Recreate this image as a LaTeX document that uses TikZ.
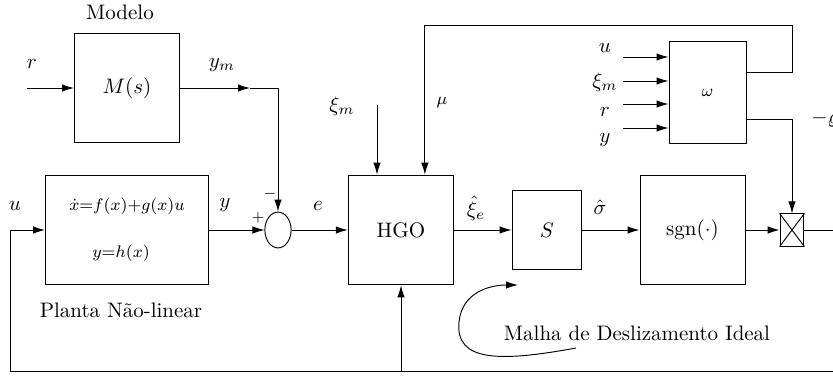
\documentclass[tikz,border=0pt]{standalone}
\usepackage{fontspec}
\usepackage{amsmath, amssymb}
\usepackage{tikz}
\usetikzlibrary{arrows.meta, positioning, shapes.geometric, calc}

\tikzset{
  blockbox/.style={draw, rectangle, inner sep=0pt},
  sumell/.style={draw, ellipse, minimum width=0.44cm, minimum height=0.6cm, inner sep=0pt},
  sig/.style={-{Latex[length=2mm,width=1.25mm]}},
}

\begin{document}
\begin{tikzpicture}[x=0.01675cm, y=-0.01675cm, line width=0.45pt]

\useasboundingbox (0,0) rectangle (833,376);
\clip (0,0) rectangle (833,376);

% Blocks
\node[blockbox, minimum width=1.76cm, minimum height=1.84cm] (model) at (127,88) {$M(s)$};
\node[blockbox, minimum width=2.73cm, minimum height=1.84cm] (plant) at (127,230) {};
\node[sumell] (sum) at (278,230) {};
\node[blockbox, minimum width=1.77cm, minimum height=1.84cm] (hgo) at (401,230) {HGO};
\node[blockbox, minimum width=1.17cm, minimum height=1.31cm] (sblk) at (547,230) {$S$};
\node[blockbox, minimum width=1.76cm, minimum height=1.84cm] (sgn) at (692.5,230) {sgn$(\cdot)$};
\node[blockbox, minimum width=0.4cm, minimum height=0.54cm] (mult) at (792,230) {};
\draw (mult.north west) -- (mult.south east) (mult.north east) -- (mult.south west);
\node[blockbox, minimum width=1.29cm, minimum height=1.72cm] (omega) at (707.5,92.5) {\footnotesize$\omega$};

% Plant equations
\node[font=\footnotesize] (eqx) at (127,206) {$\dot{x}{=}f(x){+}g(x)u$};
\node[font=\footnotesize] (eqy) at (121,253) {$y{=}h(x)$};

% Free ends
\coordinate (rin) at (27,88);
\coordinate (ymarr) at (250,88);
\coordinate (outr) at (845,230);
\coordinate (outb) at (845,371);
\coordinate (fbl) at (10,371);
\coordinate (xiin) at (377,105);
\coordinate (mutop) at (792,25);

% Signal lines
\draw[sig] (rin) -- (model);
\draw[sig] (model) -- (ymarr);
\draw[sig] (ymarr) -| (sum.north);
\draw[sig] (plant) -- (sum.west);
\draw[sig] (sum) -- (hgo);
\draw[sig] (hgo) -- (sblk);
\draw[sig] (sblk) -- (sgn);
\draw[sig] (sgn) -- (mult);
\draw (mult) -- (outr);
\draw[sig] (outb) -- (fbl) |- (plant.west);
\draw[sig] (hgo.south |- fbl) -- (hgo.south);
\draw[sig] (xiin) -- (xiin |- hgo.north);
\draw[sig] ([yshift=0.34cm]omega.east) -| (mutop) -| ([xshift=0.4cm]hgo.north);
\draw[sig] ([yshift=-0.46cm]omega.east) -| (mult.north);

% Inputs of omega
\foreach \yy [count=\i] in {57,81,104,128} {
  \coordinate (in\i) at (623,\yy);
  \draw[sig] (in\i) -- (in\i -| omega.west);
}
\foreach \lbl/\yy [count=\i] in {u/48, \xi_m/82, r/112, y/140}
  \node (lblin\i) at (605,\yy) {$\lbl$};

% Sliding loop arrow
\coordinate (loopa) at (576,348);
\coordinate (loopb) at (518,285);
\draw[sig] (loopa) .. controls (500,362) and (455,362) .. (459,322)
                   .. controls (462,292) and (490,285) .. (loopb);

% Labels
\node (modellbl) at (120,12) {Modelo};
\node (plantlbl) at (121,310) {Planta Não-linear};
\node (looplbl) at (637,333) {Malha de Deslizamento Ideal};
\node (lblr) at (32,64) {$r$};
\node (lblym) at (222,65) {$y_m$};
\node (lblu) at (15,206) {$u$};
\node (lbly) at (225,205) {$y$};
\node[font=\scriptsize] (lblminus) at (270,194) {$-$};
\node[font=\scriptsize] (lblplus) at (258,218) {$+$};
\node (lble) at (318,206) {$e$};
\node (lblxi) at (342,106) {$\xi_m$};
\node[font=\footnotesize] (lblmu) at (442,103) {$\mu$};
\node (lblxie) at (476,208) {$\hat{\xi}_e$};
\node (lblsig) at (600,207) {$\hat{\sigma}$};
\node (lblrho) at (825,119) {$-\varrho$};

\end{tikzpicture}
\end{document}
